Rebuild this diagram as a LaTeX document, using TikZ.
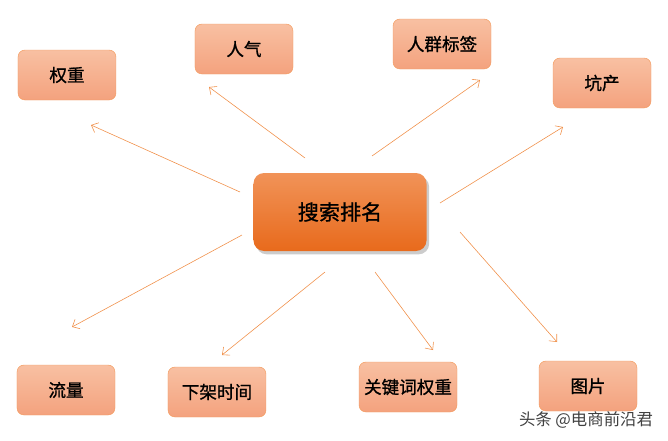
\documentclass[tikz,border=0pt]{standalone}
\usepackage{fontspec}
\setmainfont{Noto Sans CJK SC}
\newfontfamily\boxfont[FakeBold=1]{Noto Sans CJK SC}
\usepackage{tikz}
\usetikzlibrary{shadows}
\usetikzlibrary{arrows.meta}
\usepackage{xcolor}
\definecolor{lineor}{HTML}{F0904A}
\definecolor{boxtop}{HTML}{F8C0A2}
\definecolor{boxbot}{HTML}{F4A27E}
\definecolor{boxrim}{HTML}{F39A5C}
\definecolor{maintop}{HTML}{F19358}
\definecolor{mainbot}{HTML}{E86A1C}
\tikzset{
	leaf/.style={draw=boxrim, rounded corners=6pt, top color=boxtop, bottom color=boxbot,
		minimum width=2.94cm, minimum height=1.5cm, font=\boxfont\fontsize{15}{15}\selectfont},
	hub/.style={rounded corners=9pt, top color=maintop, bottom color=mainbot,
		drop shadow={shadow xshift=0.08cm, shadow yshift=-0.1cm, opacity=0.4},
		minimum width=5.19cm, minimum height=2.34cm, font=\boxfont\fontsize{18}{18}\selectfont},
	link/.style={draw=lineor, line width=0.5pt, -{Straight Barb[length=5pt,width=9pt]}}
}
\begin{document}
\begin{tikzpicture}[x=0.03cm,y=-0.03cm]
		\useasboundingbox (0,0) rectangle (668,440);

		\node[hub](S) at (340,212){搜索排名};

		\node[leaf](A) at (67,75){权重};
		\node[leaf](B) at (244,49){人气};
		\node[leaf](C) at (442,44){人群标签};
		\node[leaf](D) at (602,83){坑产};

		\node[leaf](E) at (66,390){流量};
		\node[leaf](F) at (217,392){下架时间};
		\node[leaf](G) at (408,387){关键词权重};
		\node[leaf](H) at (588,386){图片};

		\coordinate(a0) at (240,192); \coordinate(a1) at (91,125);
		\coordinate(b0) at (305,158); \coordinate(b1) at (209,87);
		\coordinate(c0) at (372,156); \coordinate(c1) at (480,80);
		\coordinate(d0) at (440,203); \coordinate(d1) at (563,127);
		\coordinate(e0) at (242,235); \coordinate(e1) at (72,327);
		\coordinate(f0) at (325,272); \coordinate(f1) at (222,355);
		\coordinate(g0) at (375,272); \coordinate(g1) at (433,350);
		\coordinate(h0) at (460,232); \coordinate(h1) at (557,342);

		\draw[link] (a0) -- (a1);
		\draw[link] (b0) -- (b1);
		\draw[link] (c0) -- (c1);
		\draw[link] (d0) -- (d1);
		\draw[link] (e0) -- (e1);
		\draw[link] (f0) -- (f1);
		\draw[link] (g0) -- (g1);
		\draw[link] (h0) -- (h1);

		\node[text=black!75, font=\fontsize{14}{14}\selectfont](W) at (586,420){头条 @电商前沿君};
	\end{tikzpicture}
\end{document}
